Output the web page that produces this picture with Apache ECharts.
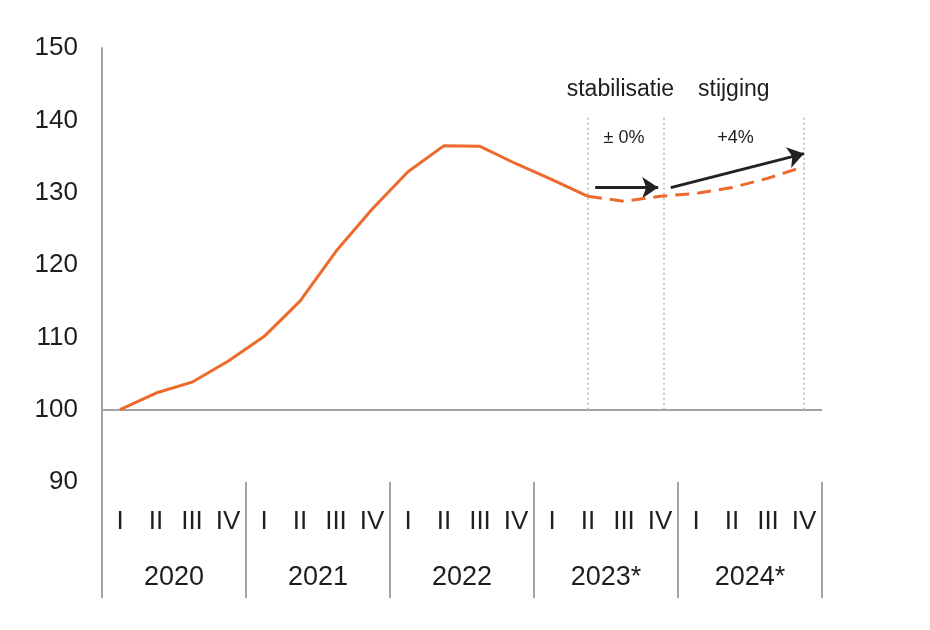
<!DOCTYPE html>
<html>
<head>
<meta charset="utf-8">
<script src="https://cdn.jsdelivr.net/npm/echarts@6/dist/echarts.min.js"></script>
<style>html,body{margin:0;padding:0;background:#fff}#c{width:930px;height:630px}</style>
</head>
<body>
<div id="c"></div>
<script>
// ---- data ----
var years = ['2020', '2021', '2022', '2023*', '2024*'];
var quarterNames = ['I', 'II', 'III', 'IV'];
// realized index, 2020 I .. 2023 II
var realized = [100, 102.3, 103.8, 106.7, 110.1, 115.0, 121.9, 127.7, 132.9, 136.5, 136.4, 134.0, 131.8, 129.5];
// forecast index, 2023 II .. 2024 IV
var forecast = [129.5, 128.8, 129.5, 129.9, 130.7, 132.0, 133.6];
var forecastStart = 13;
var yTicks = [90, 100, 110, 120, 130, 140, 150];
var phaseLabels = ['stabilisatie', 'stijging'];
var changeLabels = ['\u00b1 0%', '+4%'];
// quarter-index anchors of the phase boundaries
var phaseBounds = [13, 15.1, 19];

var quarters = [];
years.forEach(function () { quarterNames.forEach(function (q) { quarters.push(q); }); });
var realData = realized.map(function (v, i) { return [i, v]; });
var fcData = forecast.map(function (v, i) { return [forecastStart + i, v]; });

var ORANGE = '#EC6A2C';
var GREY = '#a3a3a3';
var FONT = 'Liberation Sans, Arial, sans-serif';

var chart = echarts.init(document.getElementById('c'));
chart.setOption({
  animation: false,
  backgroundColor: '#fff',
  textStyle: { fontFamily: FONT },
  grid: [
    { left: 102, right: 108, top: 48, bottom: 148 },
    { left: 102, right: 108, top: 482, bottom: 32 }
  ],
  xAxis: [
    { type: 'value', gridIndex: 0, min: -0.5, max: quarters.length - 0.5,
      axisLine: { show: false, onZero: false }, axisTick: { show: false }, axisLabel: { show: false }, splitLine: { show: false } },
    { type: 'category', gridIndex: 1, data: years, position: 'bottom',
      axisLine: { show: false }, axisTick: { show: false },
      splitLine: { show: true, interval: 0, lineStyle: { color: GREY, width: 2 } },
      axisLabel: { inside: true, margin: 20, verticalAlign: 'middle', fontSize: 27, color: '#1e1e1e', fontFamily: FONT } },
    { type: 'category', gridIndex: 1, data: quarters, position: 'bottom',
      axisLine: { show: false }, axisTick: { show: false }, splitLine: { show: false },
      axisLabel: { inside: true, interval: 0, margin: 76, verticalAlign: 'middle', fontSize: 26, color: '#1e1e1e', fontFamily: FONT } }
  ],
  yAxis: [
    { type: 'value', gridIndex: 0, min: yTicks[0], max: yTicks[yTicks.length - 1], interval: 10,
      axisLine: { show: true, onZero: false, lineStyle: { color: GREY, width: 2 } }, axisTick: { show: false },
      splitLine: { show: false },
      axisLabel: { fontSize: 26, color: '#1e1e1e', margin: 24, fontFamily: FONT } },
    { type: 'value', gridIndex: 1, show: false }
  ],
  series: [
    {
      type: 'line', xAxisIndex: 0, yAxisIndex: 0, data: realData, symbol: 'none', z: 5,
      lineStyle: { color: ORANGE, width: 3 },
      markLine: {
        silent: true, symbol: ['none', 'none'], label: { show: false },
        data: [
          { yAxis: 100, lineStyle: { color: GREY, width: 2, type: 'solid' } }
        ].concat(phaseBounds.map(function (b) {
          return [{ coord: [b, 100], lineStyle: { color: '#b5b5b5', width: 1.5, type: [2, 3] } }, { coord: [b, 140.8] }];
        }))
      }
    },
    {
      type: 'line', xAxisIndex: 0, yAxisIndex: 0, data: fcData, symbol: 'none', z: 5,
      lineStyle: { color: ORANGE, width: 3, type: [14, 8] },
      markLine: {
        silent: true, symbol: ['none', 'arrow'], symbolSize: 16, label: { show: false },
        lineStyle: { color: '#222', width: 3, type: 'solid' },
        data: [
          [{ coord: [13.2, 130.7] }, { coord: [14.95, 130.7] }],
          [{ coord: [15.3, 130.7] }, { coord: [19.0, 135.4] }]
        ]
      },
      markPoint: {
        silent: true, symbol: 'circle', symbolSize: 1, itemStyle: { color: 'rgba(0,0,0,0)' },
        label: { show: true, position: 'inside', color: '#1e1e1e', fontFamily: FONT },
        data: [
          { coord: [13.9, 144.3], value: phaseLabels[0], label: { formatter: phaseLabels[0], fontSize: 23 } },
          { coord: [17.05, 144.3], value: phaseLabels[1], label: { formatter: phaseLabels[1], fontSize: 23 } },
          { coord: [14.0, 137.6], value: changeLabels[0], label: { formatter: changeLabels[0], fontSize: 18 } },
          { coord: [17.1, 137.6], value: changeLabels[1], label: { formatter: changeLabels[1], fontSize: 18 } }
        ]
      }
    }
  ]
});
</script>
</body>
</html>
